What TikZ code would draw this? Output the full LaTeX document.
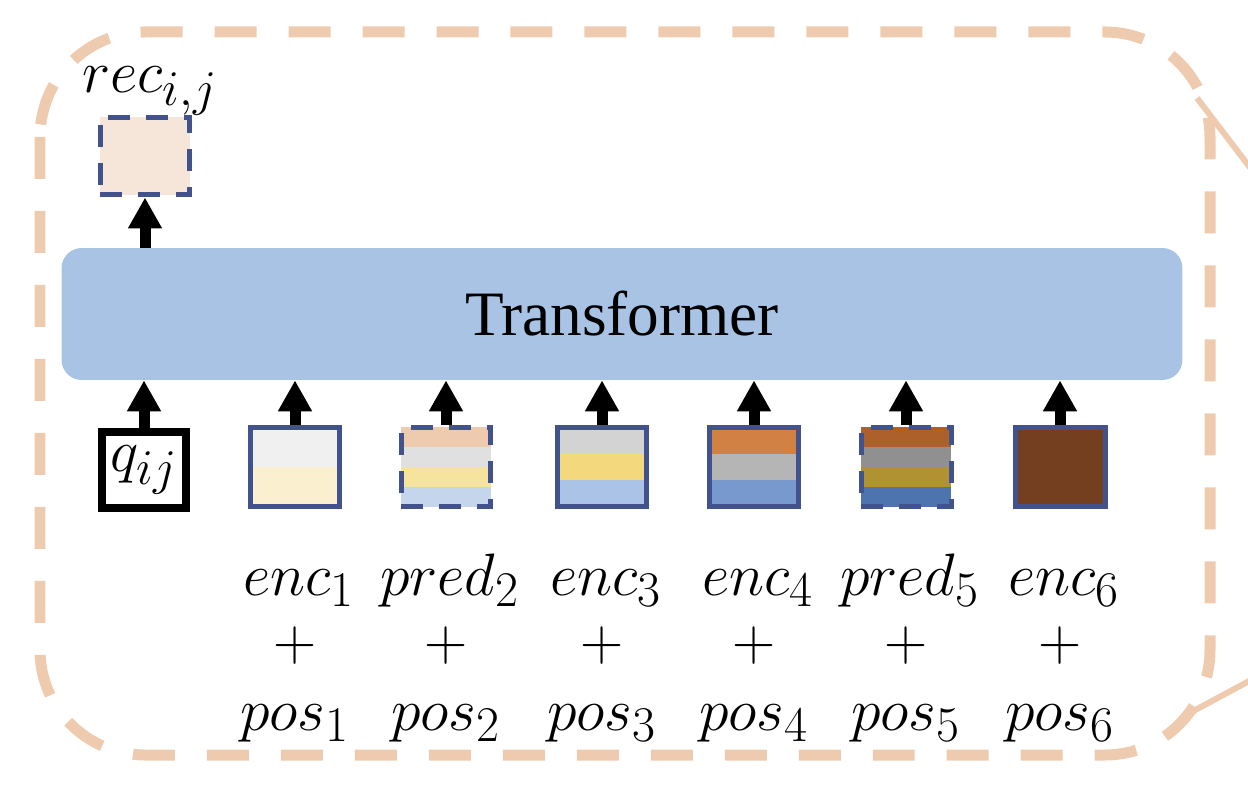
\documentclass[tikz,border=0pt]{standalone}
\usepackage[no-math]{fontspec}
\setmainfont{Liberation Serif}
\usetikzlibrary{arrows.meta, calc}

\definecolor{FramePeach}{HTML}{EECBAE}
\definecolor{TransBlue}{HTML}{A9C3E5}
\definecolor{TokenNavy}{HTML}{41528C}
\definecolor{RecFill}{HTML}{F5E6D9}
\definecolor{EncOneA}{HTML}{F0F0F0}
\definecolor{EncOneB}{HTML}{FAF0D0}
\definecolor{PredTwoA}{HTML}{EECBAE}
\definecolor{PredTwoB}{HTML}{E0E0E0}
\definecolor{PredTwoC}{HTML}{F6E39E}
\definecolor{PredTwoD}{HTML}{C5D5EC}
\definecolor{EncThreeA}{HTML}{D3D3D3}
\definecolor{EncThreeB}{HTML}{F3D87D}
\definecolor{EncThreeC}{HTML}{AAC3E6}
\definecolor{EncFourA}{HTML}{D18143}
\definecolor{EncFourB}{HTML}{B5B5B5}
\definecolor{EncFourC}{HTML}{7799CD}
\definecolor{PredFiveA}{HTML}{AE602B}
\definecolor{PredFiveB}{HTML}{909090}
\definecolor{PredFiveC}{HTML}{B19232}
\definecolor{PredFiveD}{HTML}{4E74B0}
\definecolor{EncSix}{HTML}{733F1E}

% math at about 34pt (the cm math fonts stop at 24.88pt)
\newcommand{\bigmath}[1]{\scalebox{1.37}{\fontsize{24.88}{27}\selectfont$#1$}}

\tikzset{
    token/.style = {draw = TokenNavy, line width = 0.1cm, minimum width = 1.8cm, minimum height = 1.6cm, inner sep = 0pt},
    tokendash/.style = {dash pattern = on 0.44cm off 0.32cm},
    stripes/.style 2 args = {path picture = {
        \foreach \c [count = \k] in {#2} {
            \pgfmathsetmacro\ftop{(\k - 1) / #1}
            \pgfmathsetmacro\fbot{\k / #1}
            \fill [fill = \c] ($(path picture bounding box.north west)!\ftop!(path picture bounding box.south west)$)
                rectangle ($(path picture bounding box.north east)!\fbot!(path picture bounding box.south east)$);
        }
    }},
    uparrow/.style = {draw, line width = 0.22cm, -{Triangle[width = 0.64cm, length = 0.62cm]}},
    mathtext/.style = {inner sep = 0pt, anchor = base},
}

\begin{document}
\begin{tikzpicture}[x = 0.02cm, y = -0.02cm]
    \useasboundingbox (0, 0) rectangle (1248, 790);

    % outer frame and the lines leaving it
    \draw [FramePeach, line width = 0.22cm, dash pattern = on 0.84cm off 0.64cm, rounded corners = 2.1cm]
        (40, 32) rectangle (1210, 755);
    \coordinate (lensTop) at (1197, 98);
    \coordinate (lensTopEnd) at (1290, 220);
    \coordinate (lensBottom) at (1186, 715);
    \coordinate (lensBottomEnd) at (1290, 659);
    \draw [FramePeach, line width = 0.12cm] (lensTop) -- (lensTopEnd);
    \draw [FramePeach, line width = 0.12cm] (lensBottom) -- (lensBottomEnd);

    \node [fill = TransBlue, rounded corners = 0.4cm, minimum width = 22.42cm, minimum height = 2.64cm,
        font = \fontsize{36}{40}\selectfont] (tf) at (622, 314) {Transformer};

    \node [token, fill = RecFill, tokendash, minimum height = 1.56cm] (rec) at (145, 156) {};
    \node [mathtext] (recLabel) at (150, 93) {\bigmath{rec_{i,j}}};

    \node [draw, line width = 0.16cm, minimum width = 1.7cm, minimum height = 1.54cm, inner sep = 0pt] (q)
        at (144, 470) {\bigmath{q_{ij}}};
    \node [token, stripes = {2}{EncOneA, EncOneB}] (tok1) at (295, 467) {};
    \node [token, tokendash, stripes = {4}{PredTwoA, PredTwoB, PredTwoC, PredTwoD}] (tok2) at (446, 467) {};
    \node [token, stripes = {3}{EncThreeA, EncThreeB, EncThreeC}] (tok3) at (602, 467) {};
    \node [token, stripes = {3}{EncFourA, EncFourB, EncFourC}] (tok4) at (754, 467) {};
    \node [token, tokendash, stripes = {4}{PredFiveA, PredFiveB, PredFiveC, PredFiveD}] (tok5) at (906, 467) {};
    \node [token, fill = EncSix] (tok6) at (1060, 467) {};

    \draw [uparrow] (tf.north -| rec.south) -- (rec.south);
    \foreach \t in {q, tok1, tok2, tok3, tok4, tok5, tok6} {
        \draw [uparrow] (\t.north) -- (\t.north |- tf.south);
    }

    \foreach \kind/\x [count = \m] in {enc/295, pred/446, enc/602, enc/754, pred/906, enc/1060} {
        \node [mathtext] (emb\m) at (\x + 4, 595) {\bigmath{\kind_{\m}}};
        \node [mathtext] (plus\m) at (\x, 660) {\bigmath{+}};
        \node [mathtext] (pos\m) at (\x, 730) {\bigmath{pos_{\m}}};
    }
\end{tikzpicture}
\end{document}
